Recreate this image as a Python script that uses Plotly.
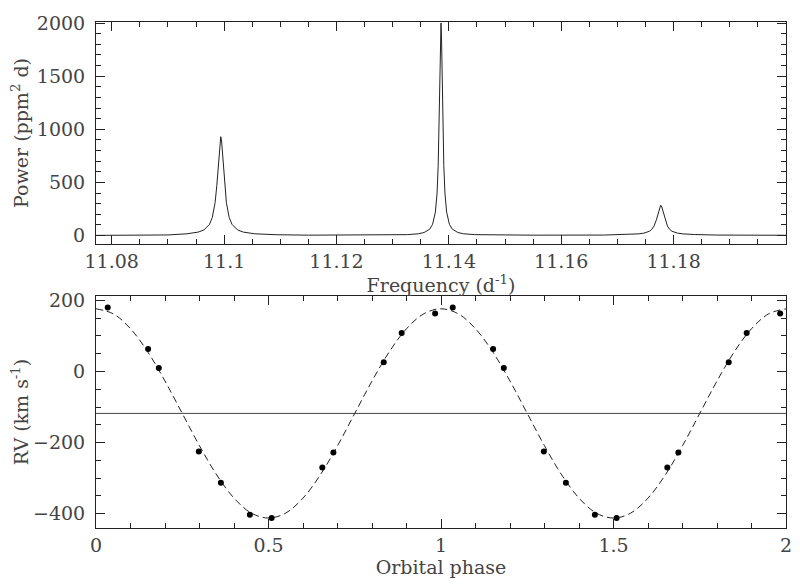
import plotly.graph_objects as go
from plotly.subplots import make_subplots

# Power spectrum (frequency in d^-1, power in ppm^2 d)
freq = [
    11.0772, 11.085, 11.090, 11.0934, 11.0954, 11.0964, 11.0974, 11.0979, 11.0984,
    11.0987, 11.0989, 11.0991, 11.09925, 11.0994, 11.09955, 11.0997, 11.0999,
    11.1001, 11.1004, 11.1009, 11.1014, 11.1024, 11.1034, 11.1054, 11.1094,
    11.115, 11.125, 11.1286, 11.1326, 11.1346, 11.1356, 11.1366, 11.1371,
    11.1376, 11.1379, 11.1381, 11.13825, 11.1384, 11.1385, 11.1386, 11.1387,
    11.1388, 11.13895, 11.1391, 11.1393, 11.1396, 11.1401, 11.1406, 11.1416,
    11.1426, 11.1446, 11.1486, 11.155, 11.1677, 11.1717, 11.1737, 11.1747,
    11.1757, 11.1761, 11.1765, 11.1769, 11.1771, 11.1773, 11.1775, 11.1777,
    11.1779, 11.1781, 11.1783, 11.1785, 11.1789, 11.1793, 11.1797, 11.1807,
    11.1817, 11.1837, 11.1877, 11.2,
]
power = [
    1, 2, 5, 16, 32, 52, 105, 170, 310,
    470, 620, 790, 890, 930, 890, 790, 620,
    470, 310, 170, 105, 52, 32, 16, 7,
    3, 3, 4, 8, 16, 28, 60, 105,
    220, 400, 660, 1000, 1510, 1850, 2000, 1850,
    1510, 1000, 660, 400, 220, 105, 60, 28,
    16, 8, 4, 3, 4, 9, 15, 22,
    40, 57, 88, 142, 182, 228, 268, 285,
    268, 228, 182, 142, 88, 57, 40, 22,
    15, 9, 4, 2,
]

# Radial velocities (km/s) against orbital phase, plotted twice (phase and phase+1)
rv_phase = [0.034, 0.151, 0.182, 0.298, 0.362, 0.446, 0.509, 0.656, 0.688, 0.834, 0.886, 0.983,
            1.034, 1.151, 1.182, 1.298, 1.362, 1.446, 1.509, 1.656, 1.688, 1.834, 1.886, 1.983]
rv = [180, 63, 10, -225, -313, -403, -412, -270, -228, 26, 108, 163,
      180, 63, 10, -225, -313, -403, -412, -270, -228, 26, 108, 163]

# Orbit fit (dashed)
fit_phase = [0.0, 0.05, 0.1, 0.15, 0.2, 0.25, 0.3, 0.35, 0.4, 0.45, 0.5,
             0.55, 0.6, 0.65, 0.7, 0.75, 0.8, 0.85, 0.9, 0.95, 1.0,
             1.05, 1.1, 1.15, 1.2, 1.25, 1.3, 1.35, 1.4, 1.45, 1.5,
             1.55, 1.6, 1.65, 1.7, 1.75, 1.8, 1.85, 1.9, 1.95, 2.0]
fit_rv = [176, 162, 120, 55, -27, -118, -209, -291, -356, -398, -412,
          -398, -356, -291, -209, -118, -27, 55, 120, 162, 176,
          162, 120, 55, -27, -118, -209, -291, -356, -398, -412,
          -398, -356, -291, -209, -118, -27, 55, 120, 162, 176]

gamma_phase = [0, 2]
gamma_rv = [-118, -118]

INK = "#222222"
TEXT = "#444444"
FONT = "DejaVu Serif, serif"

fig = make_subplots(rows=2, cols=1)

fig.add_trace(go.Scatter(x=freq, y=power, mode="lines",
                         line=dict(color=INK, width=1)), row=1, col=1)
fig.add_trace(go.Scatter(x=gamma_phase, y=gamma_rv, mode="lines",
                         line=dict(color="#444444", width=1)), row=2, col=1)
fig.add_trace(go.Scatter(x=fit_phase, y=fit_rv, mode="lines", line_shape="spline",
                         line=dict(color=INK, width=1, dash="7px,4px")), row=2, col=1)
fig.add_trace(go.Scatter(x=rv_phase, y=rv, mode="markers",
                         marker=dict(color="black", size=6)), row=2, col=1)

axis_common = dict(
    showline=True, linecolor=INK, linewidth=1, mirror="allticks",
    ticks="inside", ticklen=9, tickcolor=INK, tickwidth=1,
    showgrid=False, zeroline=False, automargin=False,
    tickfont=dict(family=FONT, size=19, color=TEXT),
    title_font=dict(family=FONT, size=19, color=TEXT),
)

fig.update_xaxes(
    **axis_common, row=1, col=1, range=[11.0772, 11.2],
    tickvals=[11.08, 11.1, 11.12, 11.14, 11.16, 11.18],
    ticktext=["11.08", "11.1", "11.12", "11.14", "11.16", "11.18"],
    minor=dict(ticks="inside", ticklen=5, dtick=0.005, tick0=11.08, tickcolor=INK),
    title=dict(text="Frequency (d<sup>-1</sup>)", standoff=0),
)
fig.update_yaxes(
    **axis_common, row=1, col=1, range=[-80, 2010],
    tickvals=[0, 500, 1000, 1500, 2000], ticklabelstandoff=6,
    minor=dict(ticks="inside", ticklen=5, dtick=100, tickcolor=INK),
    title=dict(text="Power (ppm<sup>2</sup> d)", standoff=8),
)
fig.update_xaxes(
    **axis_common, row=2, col=1, range=[0, 2],
    tickvals=[0, 0.5, 1, 1.5, 2], ticktext=["0", "0.5", "1", "1.5", "2"],
    minor=dict(ticks="inside", ticklen=5, dtick=0.1, tickcolor=INK),
    title=dict(text="Orbital phase", standoff=0),
)
fig.update_yaxes(
    **axis_common, row=2, col=1, range=[-440, 212],
    tickvals=[-400, -200, 0, 200], ticklabelstandoff=6,
    minor=dict(ticks="inside", ticklen=5, dtick=50, tickcolor=INK),
    title=dict(text="RV (km s<sup>-1</sup>)", standoff=8),
)

# the page body adds an 8 px margin, so the figure is 8 px smaller each way
fig.update_layout(
    width=792, height=578,
    margin=dict(l=88, r=14, t=14, b=58),
    paper_bgcolor="white", plot_bgcolor="white",
    showlegend=False,
    xaxis=dict(domain=[0, 1]), xaxis2=dict(domain=[0, 1]),
    yaxis=dict(domain=[0.5613, 1.0]), yaxis2=dict(domain=[0.0, 0.4585]),
)

fig.write_html("out.html")
